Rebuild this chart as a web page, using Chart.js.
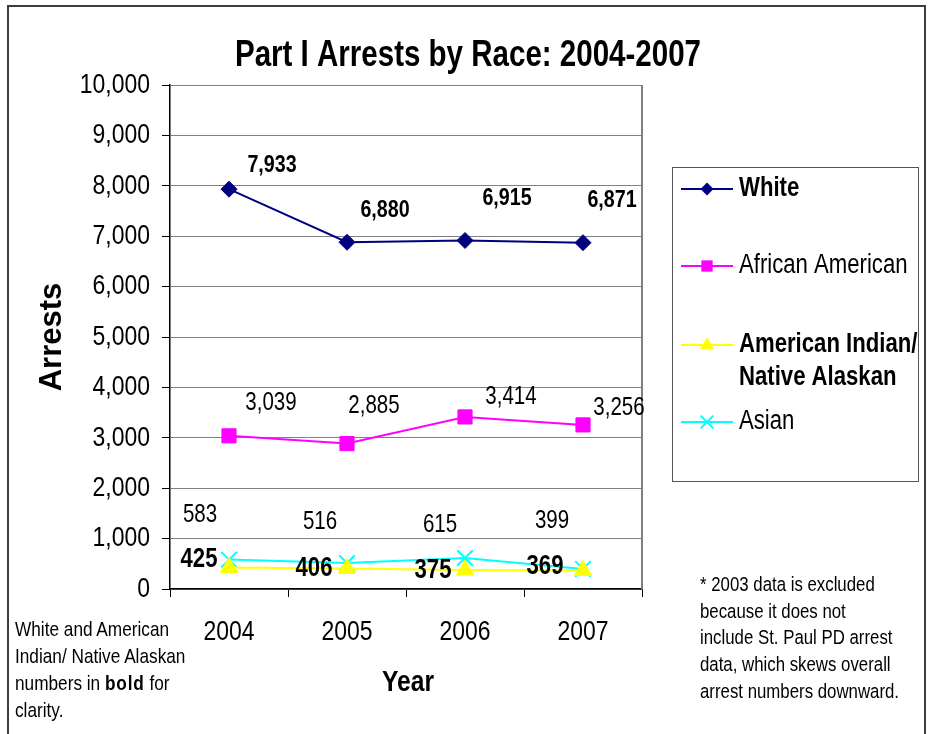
<!DOCTYPE html>
<html><head><meta charset="utf-8">
<script src="https://cdn.jsdelivr.net/npm/chart.js@4.4.0/dist/chart.umd.min.js"></script>
<style>
html,body{margin:0;padding:0;background:#fff;}
#wrap{position:relative;width:931px;height:734px;overflow:hidden;}
#c{position:absolute;left:0;top:0;}
#frame{position:absolute;left:7px;top:5px;width:919px;height:780px;border:2px solid #3c3c3c;box-sizing:border-box;pointer-events:none;}
.note{position:absolute;font-family:'Liberation Sans Narrow','Arial Narrow','Liberation Sans',Arial,sans-serif;color:#000;white-space:nowrap;transform:scaleX(0.82);transform-origin:0 0;}
</style></head>
<body><div id="wrap"><canvas id="c" width="931" height="734"></canvas><div id="frame"></div>
<div class="note" style="left:15px;top:615px;font-size:21px;line-height:27px;">White and American<br>Indian/ Native Alaskan<br>numbers in <b style="letter-spacing:1px">bold</b> for<br>clarity.</div>
<div class="note" style="left:700px;top:571px;font-size:20.5px;line-height:26.7px;">* 2003 data is excluded<br>because it does not<br>include St. Paul PD arrest<br>data, which skews overall<br>arrest numbers downward.</div>
</div>
<script>
// ---- data ----
const years = ['2004', '2005', '2006', '2007'];
const white = [7933, 6880, 6915, 6871];
const africanAmerican = [3039, 2885, 3414, 3256];
const americanIndian = [425, 406, 375, 369];
const asian = [583, 516, 615, 399];
const seriesNames = ['White', 'African American', 'American Indian/\nNative Alaskan', 'Asian'];
const yMin = 0, yMax = 10000, yStep = 1000;
const chartTitle = 'Part I Arrests by Race: 2004-2007';
const xTitle = 'Year';
const yTitle = 'Arrests';

// ---- styles ----
const FONT = "'Liberation Sans Narrow','Arial Narrow','Liberation Sans',Arial,sans-serif";
const NARROW = 0.82; // horizontal compression to mimic Arial Narrow
const colors = ['#000080', '#FF00FF', '#FFFF00', '#00FFFF'];
const pointStyles = ['rectRot', 'rect', 'triangle', 'crossRot'];
const pointRadii = [8, 10, 10, 11];
const legendRadii = [6.5, 8, 8, 9];
const boldSeries = [true, false, true, false];
const labelSizes = [24, 25, 27, 25];
// label offsets (px) relative to the point, per series / per point
const labelOffsets = [
  [[43, -24], [38, -32], [42, -42], [29, -42]],
  [[42, -33], [27, -37], [46, -20], [36, -17]],
  [[-30, -8], [-33, 0], [-32, 0], [-38, -4]],
  [[-29, -45], [-27, -41], [-25, -33], [-31, -48]]
];
const legendRows = [189, 266, 345, 422];

function fmt(v) { return Number(v).toLocaleString('en-US'); }

// narrow text rendering on the chart canvas
const canvasEl = document.getElementById('c');
const c2d = canvasEl.getContext('2d');
const origFillText = c2d.fillText;
c2d.fillText = function (t, x, y, mw) {
  this.save();
  this.translate(x, y);
  this.scale(NARROW, 1);
  if (mw === undefined) origFillText.call(this, t, 0, 0);
  else origFillText.call(this, t, 0, 0, mw / NARROW);
  this.restore();
};

function drawMarker(ctx, style, x, y, r, color) {
  ctx.save();
  ctx.fillStyle = color; ctx.strokeStyle = color; ctx.lineWidth = 2;
  ctx.beginPath();
  if (style === 'rectRot') {
    ctx.moveTo(x, y - r); ctx.lineTo(x + r, y); ctx.lineTo(x, y + r); ctx.lineTo(x - r, y); ctx.closePath(); ctx.fill();
  } else if (style === 'rect') {
    const s = r * 0.707; ctx.rect(x - s, y - s, 2 * s, 2 * s); ctx.fill();
  } else if (style === 'triangle') {
    for (let k = 0; k < 3; k++) {
      const a = k * 2 * Math.PI / 3;
      const px = x + Math.sin(a) * r, py = y - Math.cos(a) * r;
      if (k === 0) ctx.moveTo(px, py); else ctx.lineTo(px, py);
    }
    ctx.closePath(); ctx.fill();
  } else if (style === 'crossRot') {
    const s = r * 0.707;
    ctx.moveTo(x - s, y - s); ctx.lineTo(x + s, y + s); ctx.moveTo(x + s, y - s); ctx.lineTo(x - s, y + s); ctx.stroke();
  }
  ctx.restore();
}

const decor = {
  id: 'decor',
  beforeDatasetsDraw(chart) {
    const { ctx, chartArea: a } = chart;
    ctx.save();
    ctx.strokeStyle = '#808080'; ctx.lineWidth = 2;
    ctx.beginPath(); ctx.moveTo(a.right, a.top); ctx.lineTo(a.right, a.bottom); ctx.stroke();
    ctx.restore();
  },
  afterDatasetsDraw(chart) {
    const ctx = chart.ctx;
    ctx.save();
    ctx.fillStyle = '#000'; ctx.textAlign = 'center'; ctx.textBaseline = 'middle';
    chart.data.datasets.forEach((ds, di) => {
      const meta = chart.getDatasetMeta(di);
      ctx.font = (boldSeries[di] ? 'bold ' : '') + labelSizes[di] + 'px ' + FONT;
      meta.data.forEach((pt, i) => {
        const o = labelOffsets[di][i];
        ctx.fillText(fmt(ds.data[i]), pt.x + o[0], pt.y + o[1]);
      });
    });
    ctx.restore();
  },
  afterDraw(chart) {
    const { ctx, chartArea: a } = chart;
    ctx.save();
    ctx.fillStyle = '#000';
    // title
    ctx.font = 'bold 36px ' + FONT; ctx.textAlign = 'center'; ctx.textBaseline = 'alphabetic';
    ctx.fillText(chartTitle, 468, 66);
    // x title
    ctx.font = 'bold 30px ' + FONT; ctx.textBaseline = 'middle';
    ctx.fillText(xTitle, (a.left + a.right) / 2 + 2, 683);
    // y title
    ctx.save(); ctx.translate(52, (a.top + a.bottom) / 2); ctx.rotate(-Math.PI / 2);
    ctx.font = 'bold 31px ' + FONT;
    ctx.scale(1 / NARROW, 1);
    ctx.fillText(yTitle, 0, 0); ctx.restore();
    // legend
    ctx.strokeStyle = '#555'; ctx.lineWidth = 1;
    ctx.strokeRect(672.5, 167.5, 246, 314);
    ctx.textAlign = 'left';
    seriesNames.forEach((name, i) => {
      const y = legendRows[i];
      ctx.strokeStyle = colors[i]; ctx.lineWidth = 2;
      ctx.beginPath(); ctx.moveTo(681, y); ctx.lineTo(733, y); ctx.stroke();
      drawMarker(ctx, pointStyles[i], 707, y, legendRadii[i], colors[i]);
      ctx.font = (boldSeries[i] ? 'bold ' : '') + '27px ' + FONT;
      ctx.fillStyle = '#000';
      name.split('\n').forEach((line, j) => ctx.fillText(line, 739, y + j * 33));
    });
    ctx.restore();
  }
};

const seriesData = [white, africanAmerican, americanIndian, asian];
new Chart(canvasEl, {
  type: 'line',
  data: {
    labels: years,
    datasets: seriesData.map((d, i) => ({
      label: seriesNames[i].replace('\n', ' '),
      data: d,
      borderColor: colors[i],
      backgroundColor: colors[i],
      pointBackgroundColor: colors[i],
      pointBorderColor: colors[i],
      pointStyle: pointStyles[i],
      pointRadius: pointRadii[i],
      pointBorderWidth: i === 3 ? 2 : 1,
      borderWidth: 2,
      tension: 0,
      fill: false
    }))
  },
  options: {
    responsive: false,
    animation: false,
    devicePixelRatio: 1,
    layout: { padding: { top: 85, left: 0, right: 289, bottom: 0 } },
    plugins: { legend: { display: false }, title: { display: false }, tooltip: { enabled: false } },
    scales: {
      x: {
        offset: true,
        grid: { display: true, drawOnChartArea: false, drawTicks: true, tickLength: 8, tickColor: '#000', offset: true },
        border: { color: '#000', width: 1.5 },
        ticks: { font: { family: FONT, size: 28 }, color: '#000', padding: 18, maxRotation: 0 },
        afterFit(s) { s.height = 145; }
      },
      y: {
        min: yMin, max: yMax,
        ticks: { stepSize: yStep, font: { family: FONT, size: 28 }, color: '#000', padding: 12, callback: v => fmt(v) },
        grid: { color: '#808080', lineWidth: 1, tickLength: 8, tickColor: '#000' },
        border: { color: '#000', width: 1.5 },
        afterFit(s) { s.width = 170; }
      }
    }
  },
  plugins: [decor]
});
</script>
</body></html>
